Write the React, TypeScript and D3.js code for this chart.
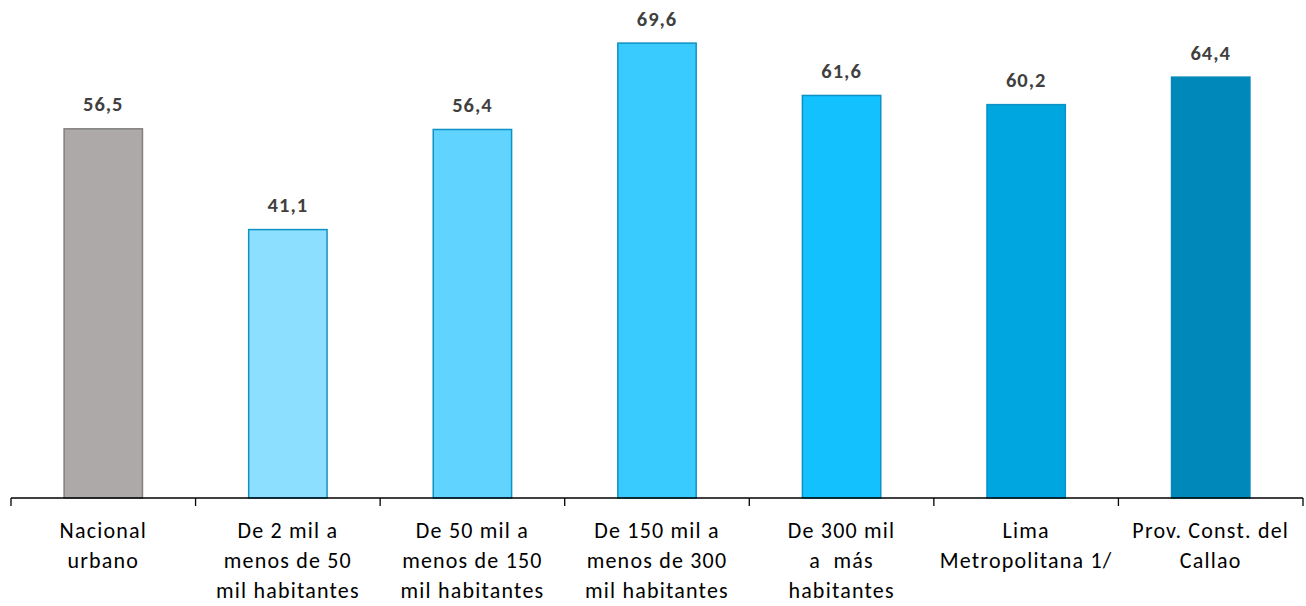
import React from "react";
import * as d3 from "d3";

const categories: string[][] = [
  ["Nacional", "urbano"],
  ["De 2 mil a", "menos de 50", "mil habitantes"],
  ["De 50 mil a", "menos de 150", "mil habitantes"],
  ["De 150 mil a", "menos de 300", "mil habitantes"],
  ["De 300 mil", "a  más", "habitantes"],
  ["Lima", "Metropolitana 1/"],
  ["Prov. Const. del", "Callao"],
];
const values: number[] = [56.5, 41.1, 56.4, 69.6, 61.6, 60.2, 64.4];
const fills: string[] = ["#ADA9A8", "#8CDFFF", "#60D3FE", "#3ACBFE", "#13C1FE", "#00A6E0", "#0088BA"];
const strokes: string[] = ["#808080", "#0E92C6", "#0E92C6", "#0E92C6", "#0E92C6", "#0E92C6", "#0088BA"];

export default function App() {
  const W = 1306, H = 606;
  const left = 11, right = 1303, base = 498;
  const x = d3.scaleBand<number>().domain(d3.range(values.length)).range([left, right]).paddingInner(0.57).paddingOuter(0.285);
  const y = d3.scaleLinear().domain([0, 70]).range([base, 40]);
  const step = (right - left) / values.length;
  const font = "Carlito, Calibri, Lato, 'Open Sans', sans-serif";
  return (
    <svg width={W} height={H} style={{ position: "absolute", left: 0, top: 0 }}>
      {values.map((v, i) => (
        <g key={i}>
          <rect x={x(i)! + 0.5} y={y(v) + 0.5} width={x.bandwidth() - 1} height={base - y(v) - 0.5}
            fill={fills[i]} stroke={strokes[i]} strokeWidth={1.5} />
          <text x={x(i)! + x.bandwidth() / 2} y={y(v) - 17} textAnchor="middle" fontFamily={font}
            fontWeight="bold" fontSize={20.5} letterSpacing={1} fill="#3F3F3F">{v.toFixed(1).replace(".", ",")}</text>
        </g>
      ))}
      <line x1={left} x2={right} y1={base} y2={base} stroke="#000" strokeWidth={1.3} />
      {d3.range(values.length + 1).map((i) => (
        <line key={i} x1={left + i * step} x2={left + i * step} y1={base} y2={base + 8} stroke="#000" strokeWidth={1.3} />
      ))}
      {categories.map((lines, i) => (
        <text key={i} textAnchor="middle" fontFamily={font} fontSize={22} letterSpacing={1.2} fill="#000">
          {lines.map((l, j) => (
            <tspan key={j} x={x(i)! + x.bandwidth() / 2} y={538 + j * 30} style={{ whiteSpace: "pre" }}>{l}</tspan>
          ))}
        </text>
      ))}
    </svg>
  );
}
